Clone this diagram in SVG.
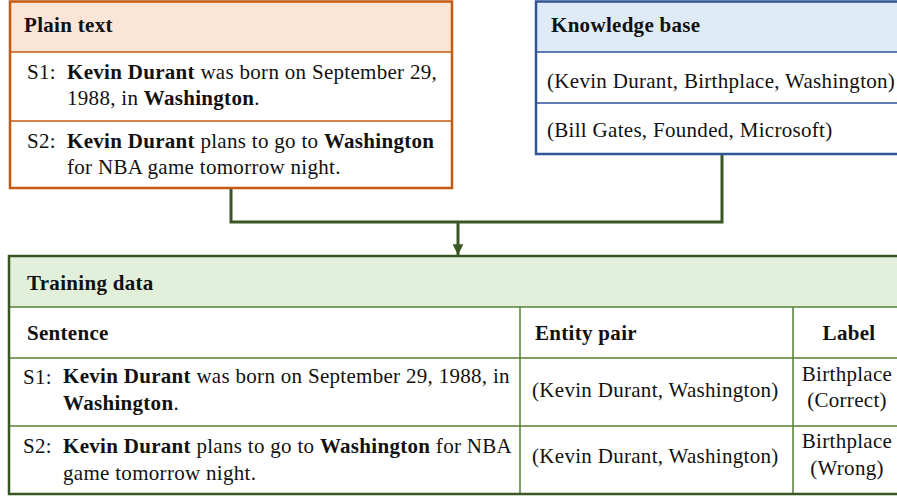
<svg xmlns="http://www.w3.org/2000/svg" width="897" height="498" viewBox="0 0 897 498">
<style>
text{font-family:"Liberation Serif","Times New Roman",serif;font-size:21px;letter-spacing:0.3px;fill:#111}
.b{font-weight:bold}
.c{text-anchor:middle}
.or{fill:none;stroke:#C55A11;stroke-width:2.5}
.orl{stroke:#C55A11;stroke-width:1.5}
.bl{fill:none;stroke:#2F5597;stroke-width:2.5}
.bll{stroke:#2F5597;stroke-width:1.5}
.gr{fill:none;stroke:#385723;stroke-width:2.5}
.grl{stroke:#538135;stroke-width:1.5}
.conn{fill:none;stroke:#385723;stroke-width:3}
</style>
<defs>
<marker id="ah" viewBox="0 0 10 10" refX="10" refY="5" markerWidth="3.6" markerHeight="3.6" orient="auto" markerUnits="strokeWidth">
<path d="M0,0 L10,5 L0,10 z" fill="#385723"/>
</marker>
</defs>
<g id="connectors">
<polyline class="conn" points="231,189 231,222 722,222 722,155"/>
<line class="conn" x1="458" y1="222" x2="458" y2="255" marker-end="url(#ah)"/>
</g>
<g id="plain-text">
<rect x="10" y="1" width="442" height="51" fill="#FBE5D6"/>
<rect x="10" y="52" width="442" height="136" fill="#fff"/>
<line class="orl" x1="10" y1="52" x2="452" y2="52"/>
<line class="orl" x1="10" y1="121" x2="452" y2="121"/>
<rect class="or" x="10" y="1.5" width="442" height="186.5"/>
<text class="b" x="24" y="32">Plain text</text>
<text x="27" y="79">S1:</text>
<text x="67" y="79"><tspan class="b">Kevin Durant</tspan> was born on September 29,</text>
<text x="67" y="105">1988, in <tspan class="b">Washington</tspan>.</text>
<text x="27" y="148">S2:</text>
<text x="67" y="148"><tspan class="b">Kevin Durant</tspan> plans to go to <tspan class="b">Washington</tspan></text>
<text x="67" y="174">for NBA game tomorrow night.</text>
</g>
<g id="knowledge-base">
<rect x="536" y="1" width="370" height="51" fill="#DEEBF7"/>
<rect x="536" y="52" width="370" height="102" fill="#fff"/>
<line class="bll" x1="536" y1="52" x2="906" y2="52"/>
<line class="bll" x1="536" y1="103" x2="906" y2="103"/>
<rect class="bl" x="536" y="1.5" width="370" height="152.5"/>
<text class="b" x="551" y="32">Knowledge base</text>
<text x="547" y="88">(Kevin Durant, Birthplace, Washington)</text>
<text x="547" y="137">(Bill Gates, Founded, Microsoft)</text>
</g>
<g id="training-data">
<rect x="9" y="256" width="900" height="51" fill="#E2EFDA"/>
<rect x="9" y="307" width="900" height="187" fill="#fff"/>
<line class="grl" x1="9" y1="307" x2="909" y2="307"/>
<line class="grl" x1="9" y1="358" x2="909" y2="358"/>
<line class="grl" x1="9" y1="426" x2="909" y2="426"/>
<line class="grl" x1="520" y1="307" x2="520" y2="494"/>
<line class="grl" x1="793" y1="307" x2="793" y2="494"/>
<rect class="gr" x="9" y="256" width="900" height="238"/>
<text class="b" x="27" y="290">Training data</text>
<text class="b" x="27" y="340">Sentence</text>
<text class="b" x="535" y="340">Entity pair</text>
<text class="b c" x="849" y="340">Label</text>
<text x="23" y="384">S1:</text>
<text x="63" y="383"><tspan class="b">Kevin Durant</tspan> was born on September 29, 1988, in</text>
<text x="63" y="410" class="b">Washington<tspan style="font-weight:normal">.</tspan></text>
<text x="532" y="397">(Kevin Durant, Washington)</text>
<text class="c" x="847" y="381">Birthplace</text>
<text class="c" x="847" y="407">(Correct)</text>
<text x="23" y="453">S2:</text>
<text x="63" y="453"><tspan class="b">Kevin Durant</tspan> plans to go to <tspan class="b">Washington</tspan> for NBA</text>
<text x="63" y="480">game tomorrow night.</text>
<text x="532" y="463">(Kevin Durant, Washington)</text>
<text class="c" x="847" y="448">Birthplace</text>
<text class="c" x="847" y="475">(Wrong)</text>
</g>
</svg>
